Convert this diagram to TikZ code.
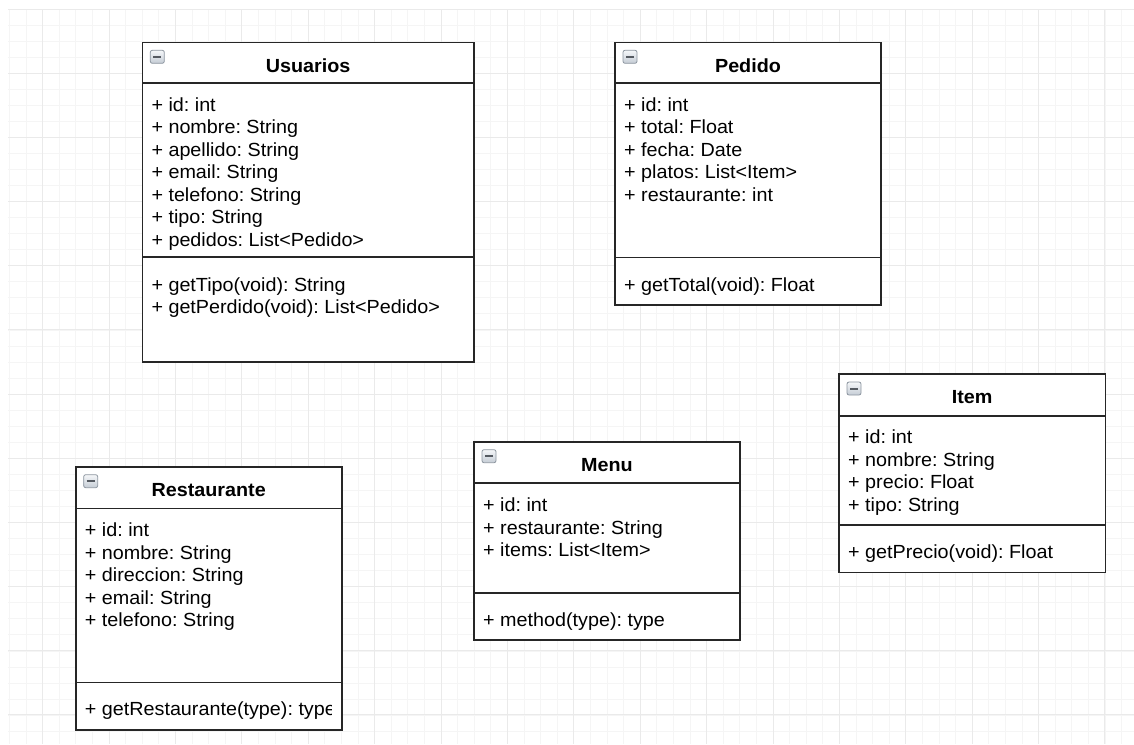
\documentclass[tikz,border=0pt]{standalone}
\usepackage{fontspec}
\setmainfont{Liberation Sans}[FakeStretch=1.04]
\usetikzlibrary{calc}
\frenchspacing

\definecolor{gridminor}{HTML}{F5F5F5}
\definecolor{gridmajor}{HTML}{EAEAEA}
\definecolor{framecol}{HTML}{262626}
\definecolor{foldedge}{HTML}{8D96A0}
\definecolor{foldtop}{HTML}{F5F7F9}
\definecolor{foldbottom}{HTML}{C5CCD5}
\definecolor{folddash}{HTML}{555A61}

\tikzset{
  minorline/.style={draw=gridminor, line width=1pt},
  majorline/.style={draw=gridmajor, line width=1pt},
  classframe/.style={rectangle, draw=framecol, line width=1.6pt, fill=white,
    inner sep=0pt, outer sep=0pt, anchor=north west},
  classrule/.style={draw=framecol, line width=1.6pt},
  classtitle/.style={anchor=base, inner sep=0pt,
    font=\fontsize{19}{22.5}\selectfont\bfseries},
  member/.style={anchor=base west, inner sep=0pt,
    font=\fontsize{19}{22.5}\selectfont},
  foldicon/.style={rectangle, rounded corners=2pt, draw=foldedge, line width=0.8pt,
    top color=foldtop, bottom color=foldbottom, minimum width=14pt,
    minimum height=13pt, inner sep=0pt},
  folddash/.style={draw=folddash, line width=2pt},
}

% #1 name, #2 left, #3 top, #4 width, #5 height, #6 header depth, #7 separator depth, #8 title
\newcommand\umlclassbox[8]{%
  \node[classframe, minimum width=#4pt, minimum height=#5pt] (#1) at (#2,#3) {};
  \node[foldicon] (#1-fold) at ($(#1.north west)+(15,14.5)$) {};
  \draw[folddash] ([xshift=-4pt]#1-fold.center) -- ([xshift=4pt]#1-fold.center);
  \node[classtitle] (#1-title) at ($(#1.north)+(0,29.7)$) {#8};
  \draw[classrule] ($(#1.north west)+(0,#6)$) -- ($(#1.north east)+(0,#6)$);
  \draw[classrule] ($(#1.north west)+(0,#7)$) -- ($(#1.north east)+(0,#7)$);
}

% #1 class name, #2 baseline depth of first line, #3 suffix, #4 lines
\newcommand\umlmembers[4]{%
  \begin{scope}
    \clip ($(#1.north west)+(1,1)$) rectangle ($(#1.south east)+(-10.5,-1)$);
    \foreach \txt [count=\k] in {#4} {
      \node[member] (#1-#3\k) at ($(#1.north west)+(9,#2+22.5*\k-22.5)$) {\txt};
    }
  \end{scope}
}

\begin{document}
\begin{tikzpicture}[x=1pt,y=-1pt]
  \useasboundingbox (0,0) rectangle (1134,744);
  \fill[white] (0,0) rectangle (1134,744);

  % background grid
  \foreach \i in {0,...,67} {
    \pgfmathsetmacro\gx{9.5+16.6*\i}
    \draw[minorline] (\gx,9) -- (\gx,744);
  }
  \foreach \j in {0,...,45} {
    \pgfmathsetmacro\gy{9+16.05*\j}
    \draw[minorline] (8,\gy) -- (1134,\gy);
  }
  \foreach \i in {0,...,16} {
    \pgfmathsetmacro\gx{42.7+66.39*\i}
    \draw[majorline] (\gx,9) -- (\gx,744);
  }
  \foreach \j in {0,...,11} {
    \pgfmathsetmacro\gy{9+64.18*\j}
    \draw[majorline] (8,\gy) -- (1134,\gy);
  }

  % Usuarios
  \umlclassbox{usuarios}{142.3}{42.3}{331.7}{319.4}{40.4}{214.4}{Usuarios}
  \umlmembers{usuarios}{69}{a}{+ id: int,+ nombre: String,+ apellido: String,+ email: String,+ telefono: String,+ tipo: String,+ pedidos: List<Pedido>}
  \umlmembers{usuarios}{248.7}{m}{+ getTipo(void): String,+ getPerdido(void): List<Pedido>}

  % Pedido
  \umlclassbox{pedido}{615}{42.3}{266}{262.7}{40.4}{215}{Pedido}
  \umlmembers{pedido}{69}{a}{+ id: int,+ total: Float,+ fecha: Date,+ platos: List<Item>,+ restaurante: int}
  \umlmembers{pedido}{248.7}{m}{+ getTotal(void): Float}

  % Item
  \umlclassbox{item}{839}{374}{266.3}{198.3}{41.7}{150.7}{Item}
  \umlmembers{item}{69.5}{a}{+ id: int,+ nombre: String,+ precio: Float,+ tipo: String}
  \umlmembers{item}{184.3}{m}{+ getPrecio(void): Float}

  % Menu
  \umlclassbox{menu}{474}{441.7}{266}{198.3}{41}{151}{Menu}
  \umlmembers{menu}{70}{a}{+ id: int,+ restaurante: String,+ items: List<Item>}
  \umlmembers{menu}{185}{m}{+ method(type): type}

  % Restaurante
  \umlclassbox{restaurante}{75.7}{466.7}{266}{263.3}{41.6}{215.6}{Restaurante}
  \umlmembers{restaurante}{70}{a}{+ id: int,+ nombre: String,+ direccion: String,+ email: String,+ telefono: String}
  \umlmembers{restaurante}{248.3}{m}{+ getRestaurante(type): type}
\end{tikzpicture}
\end{document}
